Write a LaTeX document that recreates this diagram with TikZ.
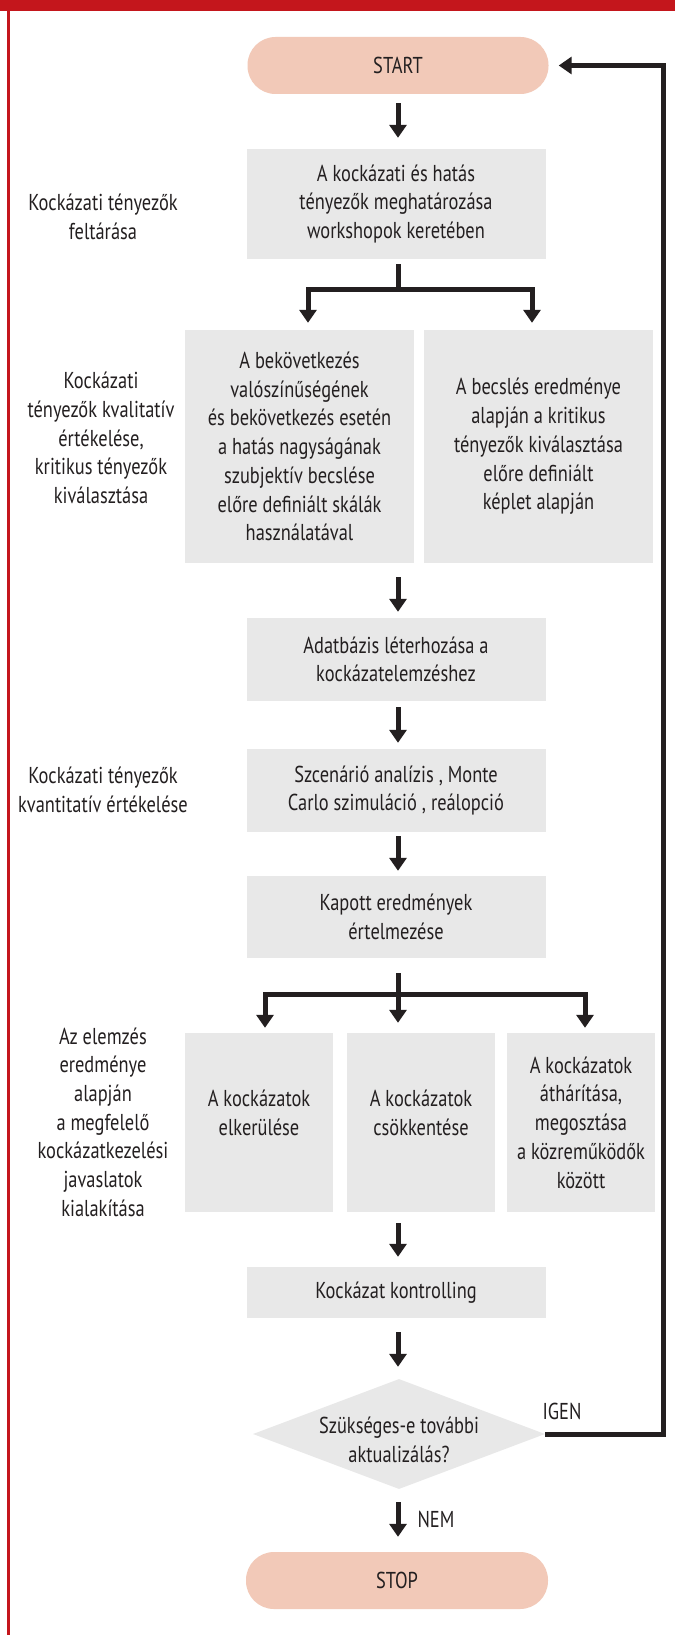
\documentclass[tikz,border=0pt]{standalone}
\usepackage{fontspec}
\setmainfont{PT Sans}[FakeStretch=0.8]
\usetikzlibrary{arrows.meta,shapes.geometric}
\definecolor{frame}{HTML}{C4161C}
\definecolor{pill}{HTML}{F2C9B8}
\definecolor{boxgray}{HTML}{E8E8E8}
\definecolor{ink}{HTML}{231F20}
\begin{document}
\begin{tikzpicture}[x=1pt,y=-1pt,
  every node/.style={font=\fontsize{23}{28.7}\selectfont, text=ink, align=center},
  pillbox/.style={fill=pill, rounded corners=28pt, minimum width=301pt, minimum height=57pt, inner sep=0pt},
  graybox/.style={fill=boxgray, inner sep=0pt},
  mainbox/.style={graybox, minimum width=299pt},
  sidelabel/.style={inner sep=0pt},
  conn/.style={draw=ink, line width=5pt},
  arr/.style={conn, -{Triangle[width=17pt,length=13pt]}},
]
\useasboundingbox (0,0) rectangle (675,1635);
\fill[white] (0,0) rectangle (675,1635);
% frame
\fill[frame] (0,0) rectangle (675,11);
\fill[frame] (6.5,0) rectangle (9.5,1635);

% main column
\node[pillbox] (start) at (398,65.5) {START};
\node[mainbox, minimum height=110pt] (box1) at (396,204)
  {A kockázati és hatás\\tényezők meghatározása\\workshopok keretében};
\node[graybox, minimum width=229pt, minimum height=233pt] (box2a) at (299.5,446.5)
  {A bekövetkezés\\valószínűségének\\és bekövetkezés esetén\\a hatás nagyságának\\szubjektív becslése\\előre definiált skálák\\használatával};
\node[graybox, minimum width=229pt, minimum height=233pt] (box2b) at (538.5,446.5)
  {A becslés eredménye\\alapján a kritikus\\tényezők kiválasztása\\előre definiált\\képlet alapján};
\node[mainbox, minimum height=83pt] (box3) at (396,659.5)
  {Adatbázis léterhozása a\\kockázatelemzéshez};
\node[mainbox, minimum height=83pt] (box4) at (396,790.5)
  {Szcenárió analízis , Monte\\Carlo szimuláció , reálopció};
\node[mainbox, minimum height=82pt] (box5) at (396,917)
  {Kapott eredmények\\értelmezése};
\node[graybox, minimum width=148pt, minimum height=179pt] (box6a) at (259,1122.5) {};
\node (t6a) at (259,1113) {A kockázatok\\elkerülése};
\node[graybox, minimum width=148pt, minimum height=179pt] (box6b) at (421,1122.5) {};
\node (t6b) at (421,1113) {A kockázatok\\csökkentése};
\node[graybox, minimum width=148pt, minimum height=179pt] (box6c) at (581,1122.5)
  {A kockázatok\\áthárítása,\\megosztása\\a közreműködők\\között};
\node[mainbox, minimum height=51pt] (box7) at (396,1292.5) {Kockázat kontrolling};
\node[diamond, fill=boxgray, inner sep=0pt, minimum width=292pt, minimum height=110pt] (dec) at (399,1434) {};
\node (dectext) at (399,1440) {Szükséges-e további\\aktualizálás?};
\node[pillbox, minimum width=302pt] (stop) at (397,1580.5) {STOP};

% side labels
\node[sidelabel] (lab1) at (103,217) {Kockázati tényezők\\feltárása};
\node[sidelabel] (lab2) at (101,438) {Kockázati\\tényezők kvalitatív\\értékelése,\\kritikus tényezők\\kiválasztása};
\node[sidelabel] (lab3) at (103,790) {Kockázati tényezők\\kvantitatív értékelése};
\node[sidelabel] (lab4) at (103,1122) {Az elemzés\\eredménye\\alapján\\a megfelelő\\kockázatkezelési\\javaslatok\\kialakítása};

% straight arrows
\draw[arr, shorten <=9pt, shorten >=11pt] (start.south -| 398,0) -- (box1.north -| 398,0);
\coordinate (j2) at (398,563);
\draw[arr, shorten <=14pt, shorten >=6pt] (j2) -- (box3.north -| j2);
\draw[arr, shorten <=6pt, shorten >=6pt] (box3.south -| j2) -- (box4.north -| j2);
\draw[arr, shorten <=4pt, shorten >=5pt] (box4.south -| j2) -- (box5.north -| j2);
\coordinate (j6) at (398,1212);
\draw[arr, shorten <=11pt, shorten >=10pt] (j6) -- (box7.north -| j6);
\draw[arr, shorten <=14pt, shorten >=12pt] (box7.south -| j6) -- (dec.north -| j6);
\draw[arr, shorten <=13pt, shorten >=15pt] (dec.south -| j6) -- (stop.north -| j6);
\node[inner sep=0pt] (nem) at (436,1519) {NEM};

% branch 1
\coordinate (b1) at (398,289);
\coordinate (b1L) at (308,289);
\coordinate (b1R) at (532,289);
\draw[conn, shorten <=5pt] (box1.south -| b1) -- (b1);
\draw[arr] (b1) -| ([yshift=7pt]box2a.north -| b1L);
\draw[arr] (b1) -| ([yshift=7pt]box2b.north -| b1R);

% branch 2
\coordinate (b2) at (398,994);
\coordinate (b2L) at (265,994);
\coordinate (b2R) at (585,994);
\draw[conn, shorten <=15pt] (box5.south -| b2) -- (b2);
\draw[arr] (b2) -| ([yshift=5pt]box6a.north -| b2L);
\draw[arr] (b2) -| ([yshift=5pt]box6c.north -| b2R);
\draw[arr, shorten >=10pt] (b2) -- (box6b.north -| b2);

% feedback
\coordinate (fb) at (663,1434);
\draw[arr, line join=miter, shorten >=10pt] (dec.east) -- (fb) |- (start.east);
\node[inner sep=0pt] (igen) at (562,1411) {IGEN};
\end{tikzpicture}
\end{document}
